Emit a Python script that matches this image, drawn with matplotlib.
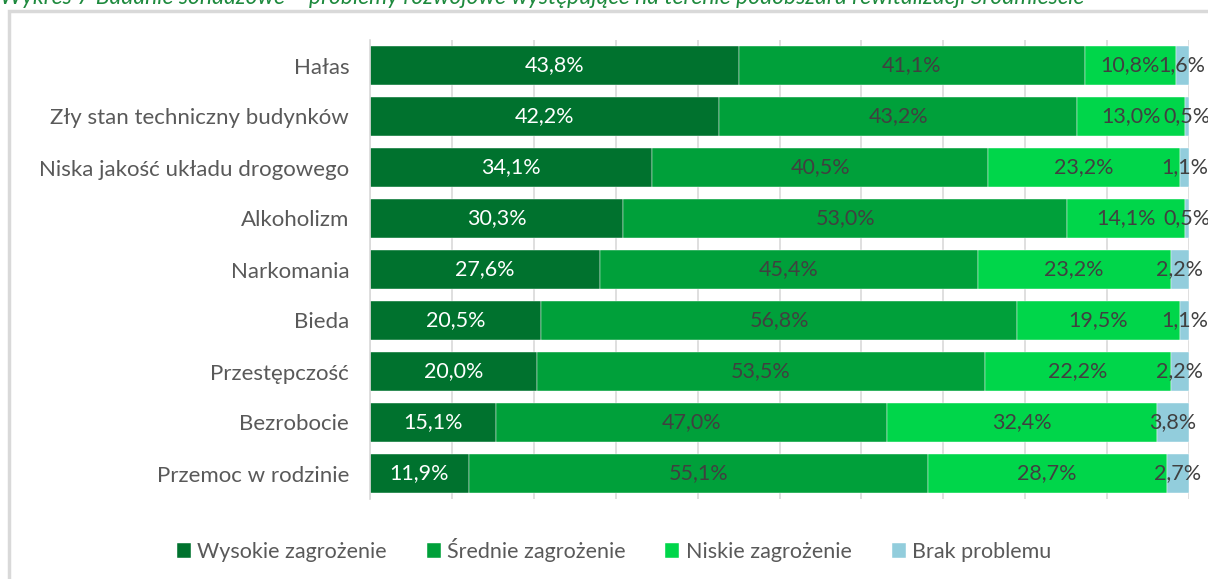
import matplotlib.pyplot as plt
import numpy as np
from matplotlib.patches import Rectangle

# data
categories = ['Hałas', 'Zły stan techniczny budynków', 'Niska jakość układu drogowego',
              'Alkoholizm', 'Narkomania', 'Bieda', 'Przestępczość', 'Bezrobocie',
              'Przemoc w rodzinie']
wysokie = [43.8, 42.2, 34.1, 30.3, 27.6, 20.5, 20.0, 15.1, 11.9]
srednie = [41.1, 43.2, 40.5, 53.0, 45.4, 56.8, 53.5, 47.0, 55.1]
niskie = [10.8, 13.0, 23.2, 14.1, 23.2, 19.5, 22.2, 32.4, 28.7]
brak = [1.6, 0.5, 1.1, 0.5, 2.2, 1.1, 2.2, 3.8, 2.7]
series_names = ['Wysokie zagrożenie', 'Średnie zagrożenie', 'Niskie zagrożenie', 'Brak problemu']
colors = ['#00722E', '#00A03A', '#00D64A', '#92CDDC']
title = ('Wykres 7 Badanie sondażowe – problemy rozwojowe występujące '
         'na terenie podobszaru rewitalizacji Śródmieście')

plt.rcParams['font.family'] = ['Lato', 'DejaVu Sans']

fig = plt.figure(figsize=(12.08, 5.79), dpi=100)
ax = fig.add_axes([370 / 1208, 1 - 499 / 579, 819 / 1208, 459 / 579])

data = np.array([wysokie, srednie, niskie, brak])
shares = data / data.sum(axis=0) * 100  # 100% stacked
y = np.arange(len(categories))
left = np.zeros(len(categories))
for i in range(4):
    bars = ax.barh(y, shares[i], left=left, height=0.78, color=colors[i],
                   label=series_names[i], edgecolor='white', linewidth=0.3, zorder=2)
    for j, b in enumerate(bars):
        txt = f'{data[i, j]:.1f}%'.replace('.', ',')
        ax.text(left[j] + shares[i, j] / 2, y[j], txt, ha='center', va='center',
                fontsize=15.5, color='white' if i == 0 else '#404040', clip_on=False, zorder=3)
    left += shares[i]

ax.set_xlim(0, 100)
ax.set_ylim(len(categories) - 0.5, -0.5)
ax.set_xticks(np.arange(0, 101, 10))
ax.xaxis.grid(True, color='#D9D9D9', linewidth=1.2, zorder=0)
ax.tick_params(axis='x', length=0, labelbottom=False)
ax.tick_params(axis='y', length=0, labelsize=16, labelcolor='#595959', pad=15)
ax.set_yticks(y)
ax.set_yticklabels(categories)
for s in ['top', 'right', 'bottom']:
    ax.spines[s].set_visible(False)
ax.spines['left'].set_color('#D9D9D9')
ax.spines['left'].set_linewidth(1.2)

# legend
handles, labels = ax.get_legend_handles_labels()
fig.legend(handles, labels, loc='center', bbox_to_anchor=(614 / 1208, 1 - 550 / 579),
           ncol=4, frameon=False, fontsize=15.5, labelcolor='#595959',
           handlelength=0.65, handleheight=0.65, handletextpad=0.3, columnspacing=1.85)

# chart frame
fig.patches.append(Rectangle((9 / 1208, -0.1), 1.2, 1 - 11 / 579 + 0.1,
                             transform=fig.transFigure, fill=False,
                             edgecolor='#D9D9D9', linewidth=2.5))

# title, cut at the top edge as in the reference
fig.text(0.0, 1 - 4 / 579, title, ha='left', va='baseline', fontsize=16.5,
         style='italic', color='#1E8A3E')

fig.savefig('out.png', dpi=100)
